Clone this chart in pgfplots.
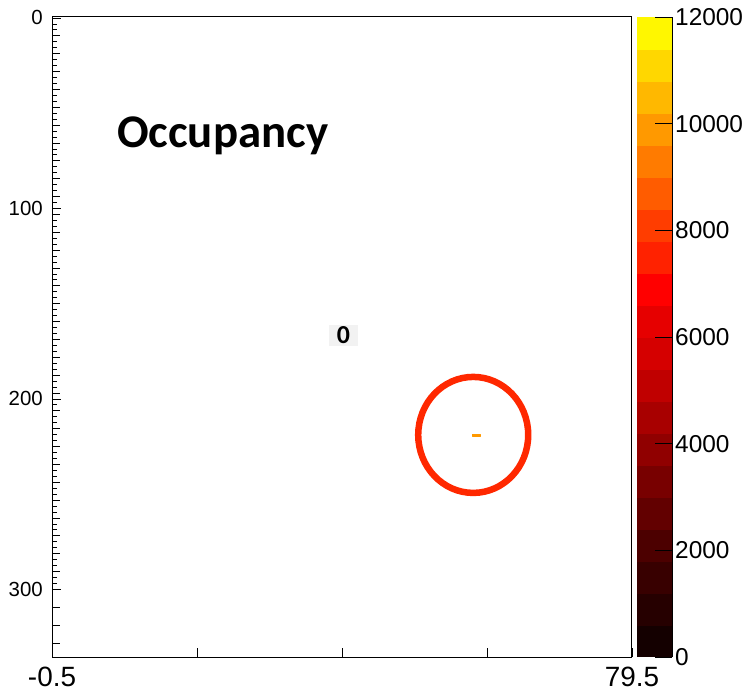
\documentclass[border=0pt]{standalone}
\usepackage{pgfplots}
\pgfplotsset{compat=1.18}
\usepgfplotslibrary{patchplots}
\usepackage{fontspec}
\setmainfont{Liberation Sans}
\newfontfamily\carlito{Carlito}
\definecolor{ringred}{RGB}{255,40,0}
\definecolor{boxgray}{RGB}{242,242,242}
\begin{document}
\begin{tikzpicture}
\path[use as bounding box] (0,0) rectangle (750bp,696bp);
\begin{axis}[
  at={(52bp,39bp)}, anchor=south west,
  scale only axis, width=580bp, height=640bp,
  xmin=-0.5, xmax=79.5, ymin=-0.5, ymax=335.5, y dir=reverse,
  axis line style={line width=1bp},
  xtick={-0.5,19.5,39.5,59.5,79.5}, xticklabels={-0.5,,,,79.5},
  ytick={0,100,200,300}, yticklabels={0,100,200,300},
  minor y tick num=31,
  extra y ticks={0,9.375,...,330}, extra y tick labels={},
  extra y tick style={major tick length=7.5bp},
  xtick pos=left, ytick pos=left,
  tick align=inside,
  major tick length=9bp, minor tick length=4.5bp,
  every tick/.append style={line width=0.8bp, black},
  every minor tick/.append style={line width=0.8bp, black},
  xticklabel style={font=\fontsize{28}{30}\selectfont, inner sep=0pt, yshift=-10bp},
  yticklabel style={font=\fontsize{20.5}{24}\selectfont, inner sep=0pt, xshift=-9bp},
  colormap={occ}{
    rgb255=(20,0,0) rgb255=(38,0,0) rgb255=(56,0,0) rgb255=(76,0,0)
    rgb255=(98,0,0) rgb255=(120,0,0) rgb255=(144,0,0) rgb255=(168,0,0)
    rgb255=(192,0,0) rgb255=(213,0,0) rgb255=(230,0,0) rgb255=(255,0,0)
    rgb255=(255,34,0) rgb255=(255,61,0) rgb255=(255,92,0) rgb255=(255,123,0)
    rgb255=(255,153,0) rgb255=(255,184,0) rgb255=(255,215,0) rgb255=(255,247,0)},
  colormap access=piecewise constant,
  point meta min=0, point meta max=12000,
  colorbar right,
  colorbar style={
    at={(parent axis.north east)}, anchor=north west, xshift=-3.5bp,
    width=35bp,
    axis x line=none, axis y line*=right,
    tick align=inside,
    major tick length=17bp,
    ytick={0,2000,4000,6000,8000,10000,12000},
    yticklabels={0,2000,4000,6000,8000,10000,12000},
    scaled y ticks=false,
    axis line style={line width=1bp},
    yticklabel style={font=\fontsize{24.5}{28}\selectfont, inner sep=0pt, xshift=3bp},
  },
]
\addplot[patch, patch type=rectangle, shader=flat corner, point meta=explicit]
  coordinates {(57.5,218.5) [9900] (58.5,218.5) [9900] (58.5,219.5) [9900] (57.5,219.5) [9900]};
\node[fill=boxgray, minimum width=29bp, minimum height=21bp, inner sep=0pt,
  font=\carlito\bfseries\fontsize{26}{28}\selectfont] at (axis cs:39.7,166.7) {0};
\draw[ringred, line width=6.5bp] (axis cs:57.6,218.9) ellipse [x radius=55bp, y radius=58bp];
\end{axis}
\node[anchor=base west, inner sep=0pt, font=\carlito\bfseries\fontsize{47}{50}\selectfont]
  at (117bp,548bp) {Occupancy};
\end{tikzpicture}
\end{document}
